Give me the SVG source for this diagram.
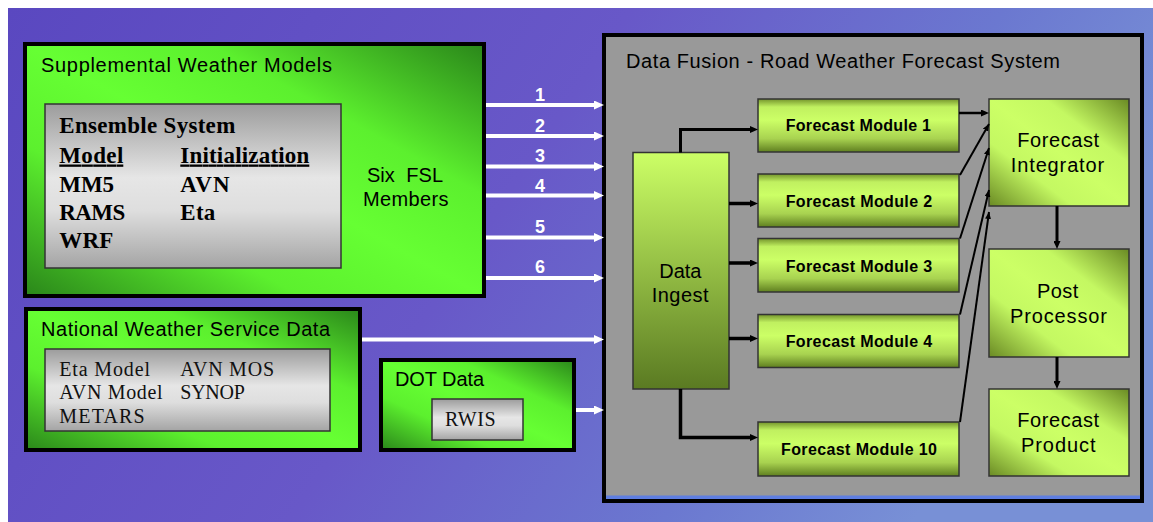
<svg xmlns="http://www.w3.org/2000/svg" width="1153" height="522" viewBox="0 0 1153 522">
<defs>
<linearGradient id="bg" x1="0" y1="0" x2="1" y2="0.3">
<stop offset="0" stop-color="#5a48c0"/><stop offset="0.5" stop-color="#6858c8"/><stop offset="0.8" stop-color="#6b78d0"/><stop offset="1" stop-color="#7890d6"/>
</linearGradient>
<linearGradient id="green" x1="0" y1="1" x2="1" y2="0">
<stop offset="0" stop-color="#2a861a"/><stop offset="0.3" stop-color="#5cf02e"/><stop offset="0.5" stop-color="#66ff33"/><stop offset="0.7" stop-color="#5cf02e"/><stop offset="1" stop-color="#2a861a"/>
</linearGradient>
<linearGradient id="yg" x1="0" y1="1" x2="1" y2="0">
<stop offset="0" stop-color="#6a8a24"/><stop offset="0.3" stop-color="#c4f862"/><stop offset="0.5" stop-color="#ccff66"/><stop offset="0.7" stop-color="#c4f862"/><stop offset="1" stop-color="#6a8a24"/>
</linearGradient>
<linearGradient id="fm" x1="0" y1="0" x2="0" y2="1">
<stop offset="0" stop-color="#74942c"/><stop offset="0.15" stop-color="#c0f060"/><stop offset="0.4" stop-color="#ccff66"/><stop offset="0.75" stop-color="#a8d250"/><stop offset="1" stop-color="#5f7f20"/>
</linearGradient>
<linearGradient id="di" x1="0" y1="0" x2="0" y2="1">
<stop offset="0" stop-color="#ccff66"/><stop offset="1" stop-color="#5a7a22"/>
</linearGradient>
<linearGradient id="gray" x1="0" y1="0" x2="0" y2="1">
<stop offset="0" stop-color="#9c9c9c"/><stop offset="0.45" stop-color="#e6e6e6"/><stop offset="0.65" stop-color="#dedede"/><stop offset="1" stop-color="#a4a4a4"/>
</linearGradient>
<marker id="wh" markerUnits="userSpaceOnUse" markerWidth="10" markerHeight="9" viewBox="0 0 10 9" refX="0" refY="4.5" orient="auto">
<path d="M0,0 L10,4.5 L0,9 z" fill="#ffffff"/>
</marker>
<marker id="bh" markerUnits="userSpaceOnUse" markerWidth="8" markerHeight="7" viewBox="0 0 8 7" refX="0" refY="3.5" orient="auto">
<path d="M0,0 L8,3.5 L0,7 z" fill="#000000"/>
</marker>
<marker id="bt" markerUnits="userSpaceOnUse" markerWidth="7" markerHeight="6" viewBox="0 0 7 6" refX="7" refY="3" orient="auto">
<path d="M0,0 L7,3 L0,6 z" fill="#000000"/>
</marker>
</defs>
<style>
.sans{font-family:"Liberation Sans",Arial,sans-serif;fill:#000;}
.hdr{font-size:20px;}
.fmt{font-size:16px;font-weight:bold;}
.serb{font-family:"Liberation Serif","Times New Roman",serif;font-size:23px;font-weight:bold;fill:#000;}
.ser{font-family:"Liberation Serif","Times New Roman",serif;font-size:20px;fill:#111;}
.num{font-family:"Liberation Sans",Arial,sans-serif;font-size:18px;font-weight:bold;fill:#fff;text-anchor:middle;}
.outer{stroke:#000;stroke-width:4;}
.thin{stroke:#333;stroke-width:1.5;}
.wl{stroke:#fff;stroke-width:4;fill:none;marker-end:url(#wh);}
.bl{stroke:#000;stroke-width:3.5;fill:none;marker-end:url(#bh);}
.bd{stroke:#000;stroke-width:2;fill:none;marker-end:url(#bt);}
</style>
<rect x="8" y="8" width="1145" height="514" fill="url(#bg)"/>

<g id="supplemental">
<rect class="outer" x="25" y="44" width="459" height="252" fill="url(#green)"/>
<text class="sans hdr" x="41" y="72" textLength="291" lengthAdjust="spacing">Supplemental Weather Models</text>
<rect class="thin" x="45" y="104" width="296" height="164" fill="url(#gray)"/>
<text class="serb" x="59.3" y="133" textLength="176" lengthAdjust="spacing">Ensemble System</text>
<text class="serb" x="59.3" y="162.5" textLength="64" lengthAdjust="spacing" text-decoration="underline">Model</text>
<text class="serb" x="180.3" y="162.5" textLength="129" lengthAdjust="spacing" text-decoration="underline">Initialization</text>
<text class="serb" x="59.3" y="191.5" textLength="54.7" lengthAdjust="spacing">MM5</text>
<text class="serb" x="180.3" y="191.5" textLength="49.3" lengthAdjust="spacing">AVN</text>
<text class="serb" x="59.3" y="220" textLength="66" lengthAdjust="spacing">RAMS</text>
<text class="serb" x="180.3" y="220" textLength="35" lengthAdjust="spacing">Eta</text>
<text class="serb" x="59.3" y="248" textLength="54" lengthAdjust="spacing">WRF</text>
<text class="sans hdr" x="367" y="182">Six <tspan dx="6">FSL</tspan></text>
<text class="sans hdr" x="363" y="206" textLength="85.5" lengthAdjust="spacing">Members</text>
</g>

<g id="nws">
<rect class="outer" x="26" y="309" width="334" height="141" fill="url(#green)"/>
<text class="sans hdr" x="41" y="336" textLength="289" lengthAdjust="spacing">National Weather Service Data</text>
<rect class="thin" x="45" y="349" width="285" height="82" fill="url(#gray)"/>
<text class="ser" x="59.3" y="376" textLength="90.7" lengthAdjust="spacing">Eta Model</text>
<text class="ser" x="180.3" y="376" textLength="93.7" lengthAdjust="spacing">AVN MOS</text>
<text class="ser" x="59.3" y="399.3" textLength="103.3" lengthAdjust="spacing">AVN Model</text>
<text class="ser" x="180.3" y="399.3" textLength="64.6" lengthAdjust="spacing">SYNOP</text>
<text class="ser" x="59.3" y="423.3" textLength="85.4" lengthAdjust="spacing">METARS</text>
</g>

<g id="dot">
<rect class="outer" x="381" y="360" width="193" height="90" fill="url(#green)"/>
<text class="sans hdr" x="395" y="386" textLength="89" lengthAdjust="spacing">DOT Data</text>
<rect class="thin" x="432" y="399" width="91" height="41" fill="url(#gray)"/>
<text class="ser" x="445" y="426" textLength="50.7" lengthAdjust="spacing">RWIS</text>
</g>

<g id="fusion">
<rect class="outer" x="604" y="35" width="538" height="466" fill="#999999"/>
<rect x="606" y="495.5" width="534" height="3.5" fill="#5f7ee0"/>
<text class="sans hdr" x="626" y="68" textLength="434" lengthAdjust="spacing">Data Fusion - Road Weather Forecast System</text>
</g>

<g id="data-ingest">
<rect class="thin" x="633" y="152.5" width="96" height="236.5" fill="url(#di)"/>
<text class="sans hdr" x="659.3" y="278.3" textLength="42" lengthAdjust="spacing">Data</text>
<text class="sans hdr" x="651.8" y="301.5" textLength="56.7" lengthAdjust="spacing">Ingest</text>
</g>

<g id="fm1">
<rect class="thin" x="758" y="99" width="201" height="53" fill="url(#fm)"/>
<text class="sans fmt" x="785.7" y="131" textLength="145.3" lengthAdjust="spacing">Forecast Module 1</text>
</g>
<g id="fm2">
<rect class="thin" x="758" y="174" width="201" height="53" fill="url(#fm)"/>
<text class="sans fmt" x="785.7" y="206.5" textLength="146.5" lengthAdjust="spacing">Forecast Module 2</text>
</g>
<g id="fm3">
<rect class="thin" x="758" y="238.5" width="201" height="53.5" fill="url(#fm)"/>
<text class="sans fmt" x="785.7" y="271.5" textLength="146.5" lengthAdjust="spacing">Forecast Module 3</text>
</g>
<g id="fm4">
<rect class="thin" x="758" y="314.5" width="201" height="53" fill="url(#fm)"/>
<text class="sans fmt" x="785.7" y="347.3" textLength="146.5" lengthAdjust="spacing">Forecast Module 4</text>
</g>
<g id="fm10">
<rect class="thin" x="758" y="422" width="201" height="54" fill="url(#fm)"/>
<text class="sans fmt" x="781" y="455" textLength="156" lengthAdjust="spacing">Forecast Module 10</text>
</g>

<g id="integrator">
<rect class="thin" x="989" y="99" width="140" height="107" fill="url(#yg)"/>
<text class="sans hdr" x="1017.3" y="146.7" textLength="81.7" lengthAdjust="spacing">Forecast</text>
<text class="sans hdr" x="1010.8" y="171.7" textLength="93.4" lengthAdjust="spacing">Integrator</text>
</g>
<g id="post-processor">
<rect class="thin" x="989" y="249" width="140" height="108" fill="url(#yg)"/>
<text class="sans hdr" x="1037" y="298.3" textLength="41.3" lengthAdjust="spacing">Post</text>
<text class="sans hdr" x="1010" y="323.3" textLength="97" lengthAdjust="spacing">Processor</text>
</g>
<g id="forecast-product">
<rect class="thin" x="989" y="389" width="140" height="87" fill="url(#yg)"/>
<text class="sans hdr" x="1017.3" y="427.3" textLength="81.7" lengthAdjust="spacing">Forecast</text>
<text class="sans hdr" x="1020.9" y="451.7" textLength="74.7" lengthAdjust="spacing">Product</text>
</g>

<g id="connectors">
<line class="wl" x1="486" y1="105" x2="594" y2="105"/>
<line class="wl" x1="486" y1="136" x2="594" y2="136"/>
<line class="wl" x1="486" y1="166.5" x2="594" y2="166.5"/>
<line class="wl" x1="486" y1="195.5" x2="594" y2="195.5"/>
<line class="wl" x1="486" y1="237.5" x2="594" y2="237.5"/>
<line class="wl" x1="486" y1="278" x2="594" y2="278"/>
<line class="wl" x1="362" y1="339.5" x2="594" y2="339.5"/>
<line class="wl" x1="576" y1="410" x2="594" y2="410"/>
<text class="num" x="540" y="100.7">1</text>
<text class="num" x="540" y="131.7">2</text>
<text class="num" x="540" y="161.7">3</text>
<text class="num" x="540" y="192.3">4</text>
<text class="num" x="540" y="232.7">5</text>
<text class="num" x="540" y="272.7">6</text>
<path class="bl" style="stroke-width:3" d="M680.5,152.5 V129.5 H750"/>
<path class="bl" d="M729,203.5 H750"/>
<path class="bl" d="M729,263 H750"/>
<path class="bl" d="M729,338.5 H750"/>
<path class="bl" d="M680.5,389 V437.5 H750"/>
<path class="bl" style="stroke-width:2.5" d="M959,113 H981"/>
<path class="bd" d="M960,175 L989,124"/>
<path class="bd" d="M960,238.5 L989,148"/>
<path class="bd" d="M960,314.5 L989,190"/>
<path class="bd" d="M960,422 L989,212"/>
<path class="bl" style="stroke-width:3" d="M1057,206 V241"/>
<path class="bl" style="stroke-width:3" d="M1057,357 V381"/>
</g>
</svg>
